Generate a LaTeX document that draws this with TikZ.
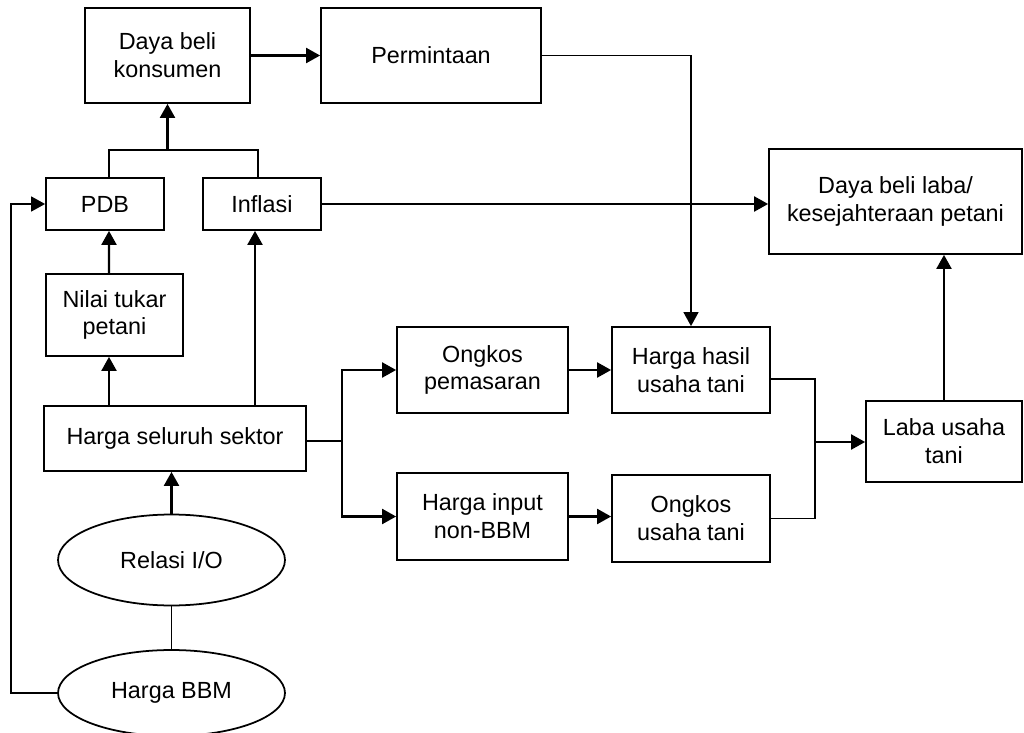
\documentclass[tikz,border=0pt]{standalone}
\usepackage{fontspec}
\setmainfont{Liberation Sans}
\usetikzlibrary{arrows.meta,shapes.geometric}

\begin{document}
\begin{tikzpicture}
            [x=0.02cm,y=-0.02cm,
            b/.style={rectangle,draw,line width=1pt,inner sep=0pt,align=center,
                font=\fontsize{13.3}{15.8}\selectfont},
            e/.style={ellipse,draw,line width=1pt,inner sep=0pt,
                font=\fontsize{13.3}{15.8}\selectfont},
            l/.style={line width=1pt},
            tip/.style={-{Triangle[length=8pt,width=8.5pt]}},
            ar/.style={line width=1.4pt,tip}]
            \useasboundingbox (0,0) rectangle (1024,733);
            \node[b,minimum width=3.3cm,minimum height=1.9cm](dbk) at (167.5,55.5) {Daya beli\\konsumen};
            \node[b,minimum width=4.4cm,minimum height=1.9cm](perm) at (431,55.5) {Permintaan};
            \node[b,minimum width=2.36cm,minimum height=1.04cm](pdb) at (105,204) {PDB};
            \node[b,minimum width=2.36cm,minimum height=1.04cm](infl) at (262,204) {Inflasi};
            \node[b,minimum width=5.06cm,minimum height=2.1cm](dbl) at (895.5,201.5) {Daya beli laba/\\kesejahteraan petani};
            \node[b,minimum width=2.74cm,minimum height=1.64cm](ntp) at (114.5,315) {Nilai tukar\\petani};
            \node[b,minimum width=5.24cm,minimum height=1.3cm](hss) at (175,438.5) {Harga seluruh sektor};
            \node[b,minimum width=3.42cm,minimum height=1.72cm](ongp) at (482.5,370) {Ongkos\\pemasaran};
            \node[b,minimum width=3.16cm,minimum height=1.72cm](hhut) at (691,370) {Harga hasil\\usaha tani};
            \node[b,minimum width=3.42cm,minimum height=1.74cm](hinp) at (482.5,516.5) {Harga input\\non-BBM};
            \node[b,minimum width=3.16cm,minimum height=1.74cm](ous) at (691,518.5) {Ongkos\\usaha tani};
            \node[b,minimum width=3.12cm,minimum height=1.62cm](laba) at (944,441.5) {Laba usaha\\tani};
            \node[e,minimum width=4.54cm,minimum height=1.82cm](rel) at (171.5,560) {Relasi I/O};
            \node[e,minimum width=4.54cm,minimum height=1.72cm](bbm) at (171.5,693) {Harga BBM};
            \coordinate (top) at (167.5,150);
            \coordinate (sp) at (342,441);
            \coordinate (jn) at (815,442);
            % upper part
            \draw[ar] (dbk.east) -- (perm.west);
            \draw[l] ([xshift=0.08cm]pdb.north) |- (top) -| ([xshift=-0.08cm]infl.north);
            \draw[ar] (top) -- (dbk.south);
            \draw[l,tip] (perm.east) -| (hhut.north);
            \draw[ar] (infl.east) -- (infl.east -| dbl.west);
            \draw[ar] ([xshift=-0.11cm]ntp.north) -- ([xshift=0.08cm]pdb.south);
            \draw[ar] ([xshift=-0.11cm]ntp.south |- hss.north) -- ([xshift=-0.11cm]ntp.south);
            \draw[ar] ([xshift=-0.14cm]infl.south |- hss.north) -- ([xshift=-0.14cm]infl.south);
            % right part
            \draw[l] (hss.east |- sp) -- (sp);
            \draw[ar] (sp) |- (ongp.west);
            \draw[ar] (sp) |- (hinp.west);
            \draw[ar] (ongp.east) -- (hhut.west);
            \draw[ar] (hinp.east) -- (hinp.east -| ous.west);
            \draw[l] ([yshift=-0.18cm]hhut.east) -| (jn) |- (ous.east);
            \draw[ar] (jn) -- (jn -| laba.west);
            \draw[ar] (laba.north) -- (laba.north |- dbl.south);
            % bottom part
            \draw[ar] (rel.north) -- (rel.north |- hss.south);
            \draw[l] (bbm.north) -- (rel.south);
            \draw[l,tip] (bbm.west) -- ++(-46,0) |- (pdb.west);
        \end{tikzpicture}
\end{document}
